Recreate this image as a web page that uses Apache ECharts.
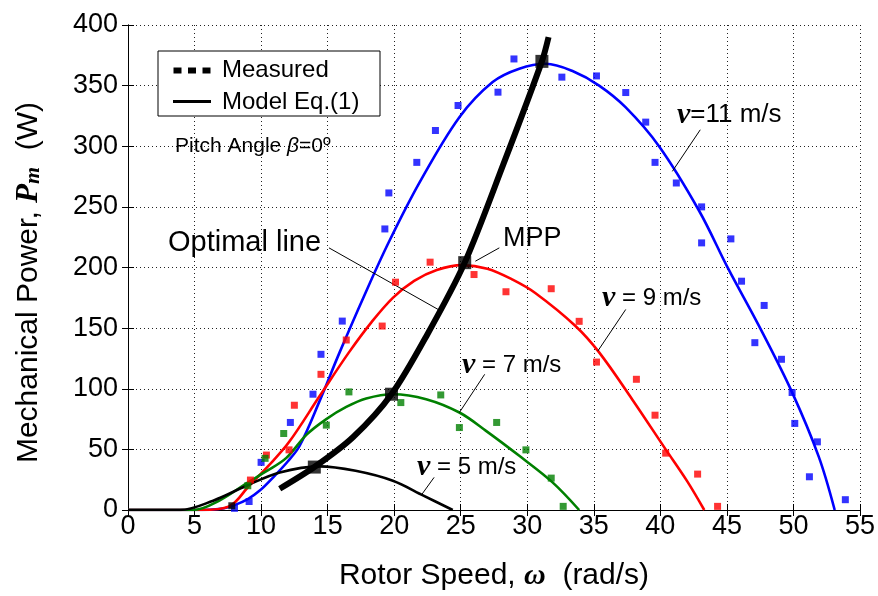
<!DOCTYPE html>
<html><head><meta charset="utf-8">
<script src="https://cdn.jsdelivr.net/npm/echarts@6/dist/echarts.min.js"></script>
<style>html,body{margin:0;padding:0;background:#fff}#c{width:878px;height:596px}</style>
</head><body><div id="c"></div>
<script>
// Axis ticks
const xTicks = [0,5,10,15,20,25,30,35,40,45,50,55];
const yTicks = [0,50,100,150,200,250,300,350,400];

// Model Eq.(1) curves [omega, P]
const model11 = [[0,0],[5,0],[7,1],[8,4],[9,9],[9.9,16],[11,28],[12,40],[12.9,53],[14.4,90],[15.9,130],[17.8,178],[19.6,221],[21.9,270],[24.9,324],[27.4,353],[29.4,364],[31.4,368],[33.4,362],[35.4,350],[37.4,332],[39.9,300],[42.9,247],[45.1,199],[47.4,152],[49.9,97],[51.9,44],[53.1,0]];
const model9 = [[0,0],[5.5,0],[7.6,3],[9.1,20],[10.6,37],[12.1,56],[14.4,94],[16.6,130],[18.3,155],[19.9,175],[21.5,189],[23.2,198],[25.1,202],[27.0,199],[28.9,190],[30.6,179],[33.6,152],[35.4,130],[37.9,91],[40.4,50],[42.0,24],[43.3,0]];
const model7 = [[0,0],[4.9,0],[6.9,8],[8.9,22],[10.4,32],[11.9,43],[13.4,62],[14.9,75],[16.4,85],[17.9,92],[19.9,95.5],[22.4,91.4],[24.9,80.4],[26.9,65.3],[29.4,44.7],[31.9,22.8],[33.9,0]];
const model5 = [[0,0],[3.9,0],[6.4,7.7],[8.9,20],[11.4,31],[14.4,36],[17.1,32.3],[19.9,24.1],[22.2,11.8],[24.4,0]];

// Measured points [omega, P]
const meas11 = [[8.0,1.4],[9.1,7],[10.0,39.3],[12.2,72.2],[13.9,95.5],[14.5,128.4],[16.1,155.8],[19.3,231.8],[19.6,261.5],[21.7,286.7],[23.1,313],[24.8,333.6],[27.8,344.6],[29.0,372],[32.6,357],[35.2,358],[37.4,344.3],[38.9,319.9],[39.6,286.7],[41.2,269.7],[43.1,250],[43.1,220.3],[45.3,223.6],[46.1,188.7],[47.8,168.7],[47.1,138],[49.1,124.3],[49.9,96.9],[50.1,71.4],[51.8,56.2],[51.2,27.4],[53.9,8.5]];
const meas9 = [[9.2,24.7],[10.4,45.3],[12.1,49.6],[12.5,86.4],[14.5,111.9],[16.4,140.2],[19.1,151.7],[20.1,187.9],[22.7,204.4],[26.0,194.2],[28.4,180],[31.8,182.5],[33.9,155.6],[35.2,122],[38.2,107.8],[39.6,78.2],[40.4,46.9],[42.8,29.6],[44.3,3]];
const meas7 = [[9.0,20],[10.3,42.6],[11.7,63.1],[14.9,70],[16.6,97.4],[20.5,88.6],[23.5,94.9],[24.9,68],[27.7,72.2],[29.9,49.6],[31.8,26.3],[32.7,3]];
const meas5 = [[7.8,3.5]];

// Optimal line and maximum power points
const optimalLine = [[11.4,17.5],[14.0,35.4],[16.9,60],[19.8,95.5],[22.5,145],[25.3,204],[28.2,285],[31.1,370],[31.6,390]];
const mppPoints = [[14.0,35.4],[19.8,95.5],[25.3,204],[31.1,370]];

// Annotation arrows [from, to]
const arrows = [
  [[43.0,313.6],[40.9,279.3]],
  [[37.4,165.4],[35.3,131.1]],
  [[26.8,111.9],[24.9,80.4]],
  [[23.0,26.9],[22.1,13.2]],
  [[15.1,216.2],[23.3,165.4]],
  [[27.9,216.2],[26.1,205.2]]
];

const SANS = '"Liberation Sans", Arial, sans-serif';
const SERIF = '"Liberation Serif", "Times New Roman", serif';
const chart = echarts.init(document.getElementById('c'), null, {renderer:'canvas'});

function lineSeries(data, color, z) {
  return {type:'line', data, smooth:0.35, showSymbol:false, symbol:'none', z,
    lineStyle:{color, width:2.6}, silent:true, animation:false, clip:true};
}
function scatterSeries(data, color) {
  return {type:'scatter', data, symbol:'rect', symbolSize:7, itemStyle:{color}, z:5, silent:true, animation:false};
}
const nuRich = {
  nu:{fontFamily:SERIF, fontStyle:'italic', fontWeight:'bold', fontSize:30, fill:'#000'}
};
function annot(x, y, text, size, rich) {
  return {type:'text', x, y, z:100, style:{text, font: size + 'px ' + SANS, fill:'#000', textVerticalAlign:'middle', textAlign:'left', rich: rich || {}}};
}

const option = {
  backgroundColor:'#fff',
  animation:false,
  grid:{left:128, right:16, top:25, bottom:85, containLabel:false},
  xAxis:[{
    type:'value', min:xTicks[0], max:xTicks[xTicks.length-1], interval:xTicks[1]-xTicks[0],
    name:'Rotor Speed, {w|ω}  (rad/s)', nameLocation:'middle', nameGap:51,
    nameTextStyle:{fontFamily:SANS, fontSize:30, color:'#000',
      rich:{w:{fontFamily:SERIF, fontStyle:'italic', fontWeight:'bold', fontSize:30, color:'#000'}}},
    axisLine:{show:true, lineStyle:{color:'#000', width:1}},
    axisTick:{show:true, inside:true, length:6, lineStyle:{color:'#000'}},
    axisLabel:{fontFamily:SANS, fontSize:27, color:'#000', margin:3},
    splitLine:{show:true, lineStyle:{color:'#222', width:1, type:[1,3]}}
  },{
    type:'value', position:'top', min:xTicks[0], max:xTicks[xTicks.length-1], interval:xTicks[1]-xTicks[0],
    axisLine:{show:true, lineStyle:{color:'#000', width:1}},
    axisTick:{show:true, inside:true, length:6, lineStyle:{color:'#000'}},
    axisLabel:{show:false}, splitLine:{show:false}
  }],
  yAxis:[{
    type:'value', min:yTicks[0], max:yTicks[yTicks.length-1], interval:yTicks[1]-yTicks[0],
    name:'Mechanical Power, {p|P}{m|m}  (W)', nameLocation:'middle', nameGap:84, nameRotate:90,
    nameTextStyle:{fontFamily:SANS, fontSize:30, color:'#000', padding:[0,30,0,0],
      rich:{p:{fontFamily:SERIF, fontStyle:'italic', fontWeight:'bold', fontSize:31, color:'#000'},
            m:{fontFamily:SERIF, fontStyle:'italic', fontWeight:'bold', fontSize:22, color:'#000', padding:[9,0,0,0]}}},
    axisLine:{show:true, lineStyle:{color:'#000', width:1}},
    axisTick:{show:true, inside:true, length:6, lineStyle:{color:'#000'}},
    axisLabel:{fontFamily:SANS, fontSize:27, color:'#000', margin:10},
    splitLine:{show:true, lineStyle:{color:'#222', width:1, type:[1,3]}}
  },{
    type:'value', position:'right', min:yTicks[0], max:yTicks[yTicks.length-1], interval:yTicks[1]-yTicks[0],
    axisLine:{show:true, lineStyle:{color:'#000', width:1}},
    axisTick:{show:true, inside:true, length:6, lineStyle:{color:'#000'}},
    axisLabel:{show:false}, splitLine:{show:false}
  }],
  series:[
    lineSeries(model11, '#0000ff', 2),
    lineSeries(model9, '#ff0000', 2),
    lineSeries(model7, '#008000', 2),
    Object.assign(lineSeries(model5, '#000000', 3), {
      markLine:{silent:true, animation:false, symbol:['none','arrow'], symbolSize:[0,12],
        label:{show:false}, lineStyle:{color:'#000', width:1, type:'solid'},
        emphasis:{disabled:true},
        data: arrows.map(a => [{coord:a[0]},{coord:a[1]}])}
    }),
    scatterSeries(meas11, '#0000ff'),
    scatterSeries(meas9, '#ff0000'),
    scatterSeries(meas7, '#008000'),
    scatterSeries(meas5, '#000000'),
    {type:'line', data:optimalLine, smooth:0.3, showSymbol:false, symbol:'none', z:8,
      lineStyle:{color:'#000', width:6}, silent:true, animation:false},
    {type:'scatter', data:mppPoints, symbol:'rect', symbolSize:13, itemStyle:{color:'#000'}, z:9, silent:true, animation:false}
  ],
  graphic:[
    {type:'rect', z:90, shape:{x:158, y:51, width:222, height:65}, style:{fill:'#fff', stroke:'#000', lineWidth:1}},
    {type:'rect', z:91, shape:{x:173.5, y:67.5, width:8, height:6}, style:{fill:'#000'}},
    {type:'rect', z:91, shape:{x:188, y:67.5, width:8, height:6}, style:{fill:'#000'}},
    {type:'rect', z:91, shape:{x:202.5, y:67.5, width:8, height:6}, style:{fill:'#000'}},
    {type:'line', z:91, shape:{x1:173, y1:101.5, x2:211, y2:101.5}, style:{stroke:'#000', lineWidth:3}},
    annot(222, 70, 'Measured', 24),
    annot(222, 102, 'Model Eq.(1)', 24),
    annot(175, 146, 'Pitch Angle {b|β}=0º', 21, {b:{fontFamily:SANS, fontStyle:'italic', fontSize:21, fill:'#000'}}),
    annot(168, 243, 'Optimal line', 29),
    annot(503, 239, 'MPP', 27),
    annot(677, 115, '{nu|ν}=11 m/s', 26, nuRich),
    annot(602, 298, '{nu|ν} = 9 m/s', 24, nuRich),
    annot(462, 365, '{nu|ν} = 7 m/s', 24, nuRich),
    annot(417, 467, '{nu|ν} = 5 m/s', 24, nuRich)
  ]
};
chart.setOption(option);
</script>
</body></html>
